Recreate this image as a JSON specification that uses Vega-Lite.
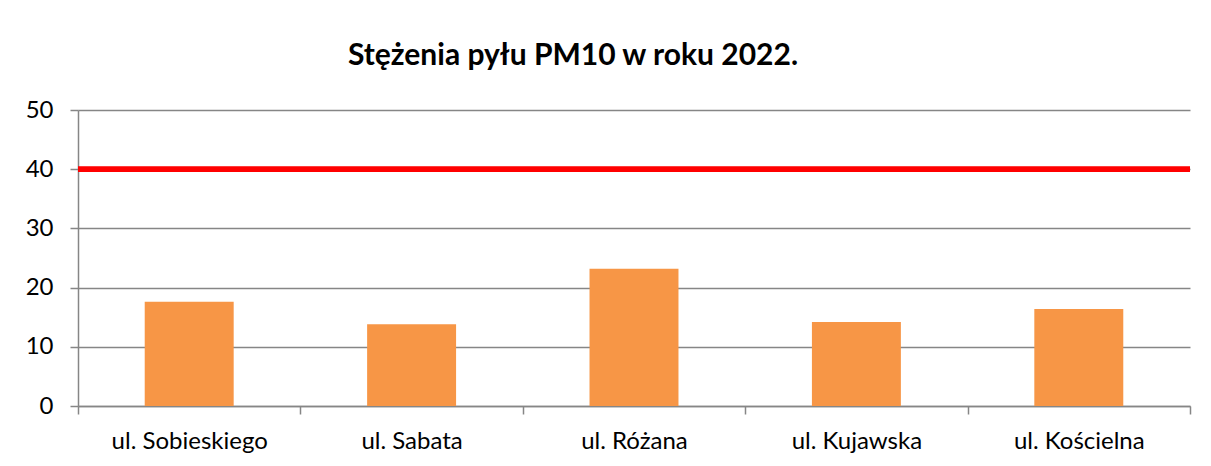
{
  "$schema": "https://vega.github.io/schema/vega-lite/v6.json",
  "width": 1112,
  "height": 296,
  "autosize": {"type": "none"},
  "padding": {"left": 78, "top": 110, "right": 21, "bottom": 60},
  "background": "white",
  "title": {
    "text": "Stężenia pyłu PM10 w roku 2022.",
    "font": "Lato",
    "fontSize": 30,
    "fontWeight": "bold",
    "color": "black",
    "anchor": "middle",
    "frame": "group",
    "dx": -61,
    "offset": 27
  },
  "data": {
    "values": [
      {"ulica": "ul. Sobieskiego", "pm10": 17.6},
      {"ulica": "ul. Sabata", "pm10": 13.8},
      {"ulica": "ul. Różana", "pm10": 23.2},
      {"ulica": "ul. Kujawska", "pm10": 14.2},
      {"ulica": "ul. Kościelna", "pm10": 16.4}
    ]
  },
  "layer": [
    {
      "mark": {"type": "bar", "color": "#F79646", "width": {"band": 0.4}},
      "encoding": {
        "x": {
          "field": "ulica",
          "type": "nominal",
          "sort": null,
          "scale": {"paddingInner": 0, "paddingOuter": 0},
          "axis": {
            "title": null,
            "labelAngle": 0,
            "tickBand": "extent",
            "tickSize": 8,
            "tickColor": "#868686",
            "tickWidth": 1.5,
            "domainColor": "#868686",
            "domainWidth": 1.5,
            "labelFont": "Lato",
            "labelFontSize": 24,
            "labelColor": "black",
            "labelPadding": 15,
            "grid": false
          }
        },
        "y": {
          "field": "pm10",
          "type": "quantitative",
          "scale": {"domain": [0, 50], "nice": false},
          "axis": {
            "title": null,
            "values": [0, 10, 20, 30, 40, 50],
            "grid": true,
            "gridColor": "#868686",
            "gridWidth": 1.5,
            "domainColor": "#868686",
            "domainWidth": 1.5,
            "tickColor": "#868686",
            "tickWidth": 1.5,
            "tickSize": 8,
            "labelFont": "Lato",
            "labelFontSize": 24,
            "labelColor": "black",
            "labelPadding": 17
          }
        }
      }
    },
    {
      "mark": {"type": "rule", "color": "#FF0000", "strokeWidth": 5},
      "encoding": {"y": {"datum": 40}}
    }
  ],
  "config": {"view": {"stroke": null}, "font": "Lato"}
}
